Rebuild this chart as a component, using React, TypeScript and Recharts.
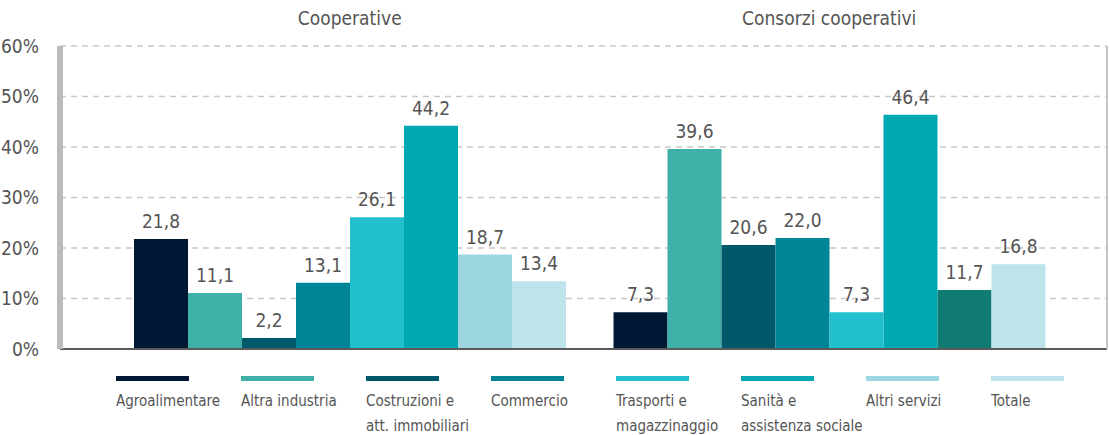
import React from "react";
import {
    BarChart,
    Bar,
    XAxis,
    YAxis,
    CartesianGrid,
    Legend,
    LabelList,
    ReferenceLine,
    Cell,
} from "recharts";

const groups = ["Cooperative", "Consorzi cooperativi"];
const sectorKeys = ["agro", "industria", "costruzioni", "commercio", "trasporti", "sanita", "servizi", "totale"];
const sectorLabels = [
    "Agroalimentare",
    "Altra industria",
    "Costruzioni e\natt. immobiliari",
    "Commercio",
    "Trasporti e\nmagazzinaggio",
    "Sanità e\nassistenza sociale",
    "Altri servizi",
    "Totale",
];
const cooperative = [21.8, 11.1, 2.2, 13.1, 26.1, 44.2, 18.7, 13.4];
const consorzi = [7.3, 39.6, 20.6, 22.0, 7.3, 46.4, 11.7, 16.8];
const yTicks = [0, 10, 20, 30, 40, 50, 60];

const colors = ["#011835", "#3eb0a8", "#00586b", "#008597", "#22bfcd", "#00a9b1", "#9cd7e1", "#bde3eb"];
// in the original the consorzi "altri servizi" bar uses a darker green
const overrideColors: Record<string, string[]> = {
    servizi: ["#9cd7e1", "#0f7b73"],
};

const FONT = "'Liberation Sans Narrow', 'DejaVu Sans Condensed', 'Roboto Condensed', 'DejaVu Sans', sans-serif";
const TEXT = "#555555";

const chartData = groups.map((g, i) => {
    const row: any = { group: g };
    const vals = i === 0 ? cooperative : consorzi;
    sectorKeys.forEach((k, j) => {
        row[k] = vals[j];
    });
    return row;
});

const fmt = (v: any) => Number(v).toFixed(1).replace(".", ",");

function GroupTick(props: any) {
    const { x, payload } = props;
    return (
        <text x={x} y={25} textAnchor="middle" fill={TEXT} fontSize={19} fontFamily={FONT} style={{ fontStretch: "condensed" }}>
            {payload.value}
        </text>
    );
}

function LegendContent() {
    return (
        <div style={{ display: "flex", paddingLeft: 116 }}>
            {sectorKeys.map((k, i) => (
                <div key={k} style={{ width: 125, flex: "none" }}>
                    <div style={{ width: 73, height: 5, background: colors[i] }} />
                    <div
                        style={{
                            marginTop: 8,
                            fontFamily: FONT,
                            fontStretch: "condensed",
                            fontSize: 15,
                            lineHeight: "25px",
                            color: TEXT,
                            whiteSpace: "pre",
                        }}
                    >
                        {sectorLabels[i]}
                    </div>
                </div>
            ))}
        </div>
    );
}

export default function App() {
    return (
        <div style={{ position: "absolute", left: 0, top: 0, width: 1109, height: 435, background: "#fff" }}>
            <BarChart
                width={1109}
                height={435}
                data={chartData}
                margin={{ top: 0, right: 1, bottom: 86, left: 0 }}
                barGap={0}
                barSize={54}
            >
                <CartesianGrid vertical={false} stroke="#c8c8c8" strokeWidth={1.5} strokeDasharray="6 5" />
                <XAxis
                    dataKey="group"
                    orientation="top"
                    height={46}
                    axisLine={false}
                    tickLine={false}
                    tick={<GroupTick />}
                    padding={{ left: 50, right: 38 }}
                />
                <YAxis
                    domain={[0, 60]}
                    ticks={yTicks}
                    width={60}
                    tickLine={false}
                    tickSize={0}
                    tickMargin={21}
                    axisLine={{ stroke: "#bbbbbb", strokeWidth: 6 }}
                    tickFormatter={(v) => `${v}%`}
                    tick={{ fill: TEXT, fontSize: 19, fontFamily: FONT, style: { fontStretch: "condensed" } } as any}
                />
                <YAxis
                    yAxisId="border"
                    orientation="right"
                    width={1}
                    tick={false}
                    tickLine={false}
                    axisLine={{ stroke: "#c4c4c4", strokeWidth: 2 }}
                />
                <Legend
                    layout="horizontal"
                    verticalAlign="middle"
                    align="center"
                    wrapperStyle={{ top: 376, left: 0, width: 1109 }}
                    content={<LegendContent />}
                />
                {sectorKeys.map((k, i) => (
                    <Bar key={k} dataKey={k} name={sectorLabels[i]} fill={colors[i]} isAnimationActive={false}>
                        {chartData.map((_, j) => (
                            <Cell key={j} fill={overrideColors[k] ? overrideColors[k][j] : colors[i]} />
                        ))}
                        <LabelList
                            dataKey={k}
                            position="top"
                            offset={11}
                            formatter={fmt}
                            fill={TEXT}
                            fontSize={19}
                            fontFamily={FONT}
                            style={{ fontStretch: "condensed" }}
                        />
                    </Bar>
                ))}
                <ReferenceLine y={0} stroke="#5a5a5a" strokeWidth={2} />
            </BarChart>
        </div>
    );
}
